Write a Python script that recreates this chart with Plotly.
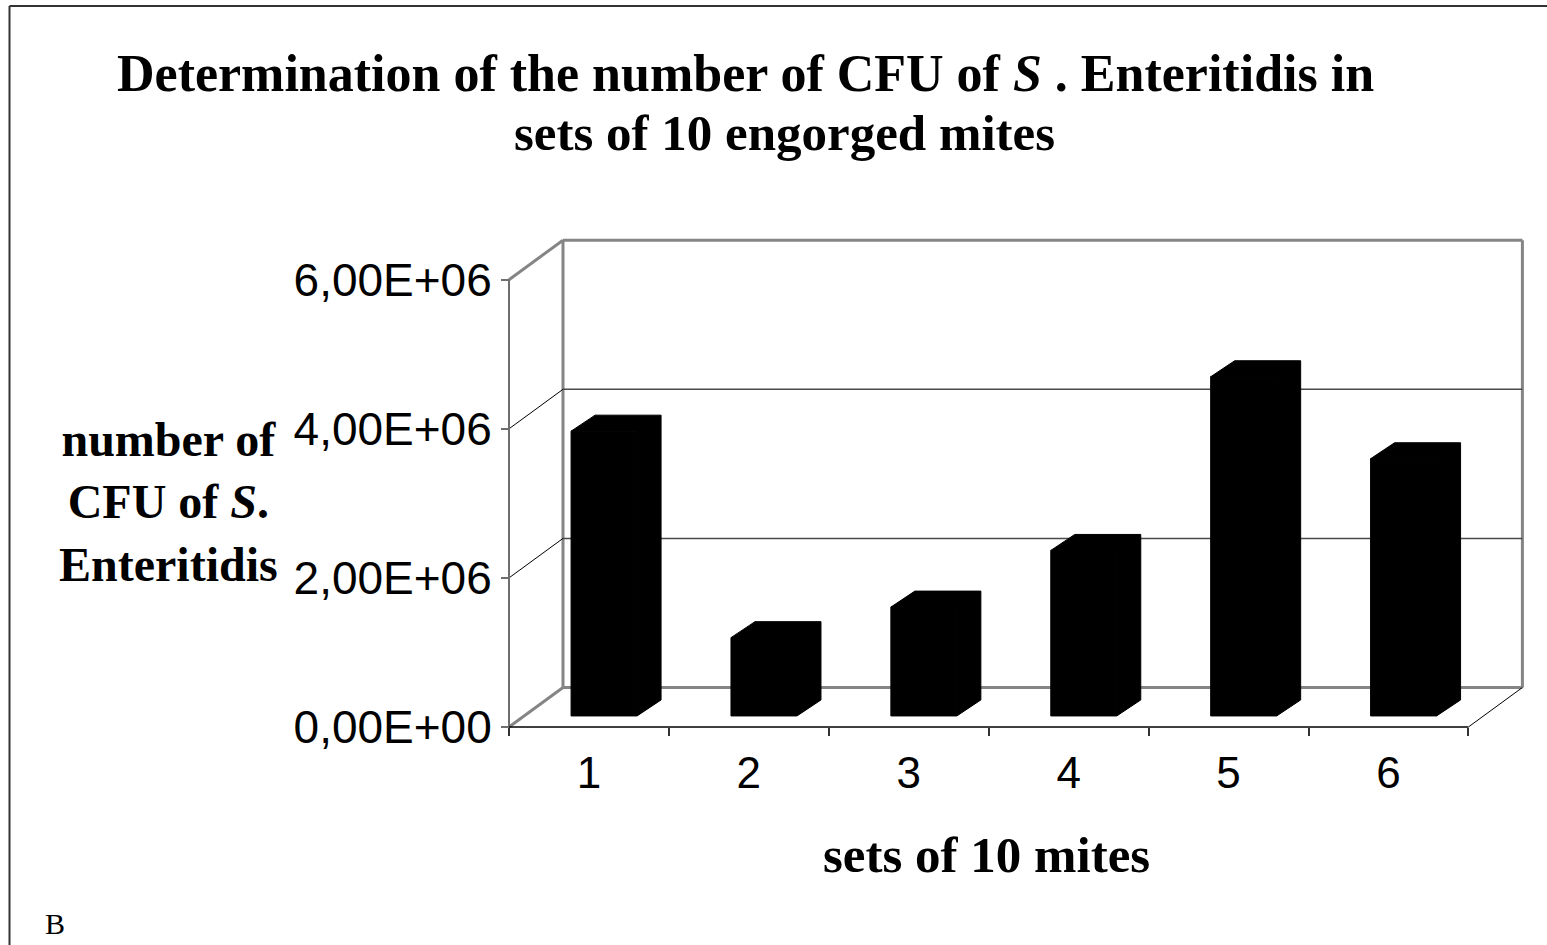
import plotly.graph_objects as go

# ---------------- data ----------------
categories = ["1", "2", "3", "4", "5", "6"]
cfu_values = [3.82e6, 1.05e6, 1.46e6, 2.22e6, 4.55e6, 3.45e6]
y_tick_values = [0, 2e6, 4e6, 6e6]
y_tick_labels = ["0,00E+00", "2,00E+06", "4,00E+06", "6,00E+06"]

title_line1 = "Determination of the number of CFU of <i>S</i> . Enteritidis in"
title_line2 = "sets of 10 engorged mites"
y_title = "number of<br>CFU of <i>S</i>.<br>Enteritidis"
x_title = "sets of 10 mites"
panel_label = "B"

# ---------------- layout geometry ----------------
W, H = 1547, 945
PL, PR, PT, PB = 490, 1540, 228, 740          # plot-area pixel box
AXIS_X_PX, AXIS_Y_PX = 509, 727               # front axes position
CAT_PX = 159.9                                 # pixels per category
UNIT_PX = 149.1 / 2e6                          # pixels per CFU

plot_w = PR - PL
plot_h = PB - PT
x_range = [0.5 - (AXIS_X_PX - PL) / CAT_PX, 0.5 + (PR - AXIS_X_PX) / CAT_PX]
y_range = [-(PB - AXIS_Y_PX) / UNIT_PX, (AXIS_Y_PX - PT) / UNIT_PX]

DX = 54 / CAT_PX           # depth of the 3-D box (x, data units)
DY = 39.5 / UNIT_PX        # depth of the 3-D box (y, data units)
FRONT = 0.28               # depth position of bar front faces
BAR_W = 66 / CAT_PX
DEP_X = 24 / CAT_PX
DEP_Y = 16 / UNIT_PX

n = len(categories)
cat_pos = [i + 1 for i in range(n)]
x_lo, x_hi = 0.5, n + 0.5
y_max = y_tick_values[-1]


def px_x(px):
    return (px - PL) / plot_w


def px_y(py):
    return (PB - py) / plot_h


fig = go.Figure()

# front faces of bars
bar_x = [c + FRONT * DX for c in cat_pos]
bar_base = FRONT * DY
fig.add_trace(go.Bar(
    x=bar_x, y=cfu_values, base=[bar_base] * n, width=BAR_W,
    marker=dict(color="black", line=dict(color="black", width=1)),
    hoverinfo="skip", showlegend=False,
))

# top + side faces of bars
for xc, v in zip(bar_x, cfu_values):
    xl, xr = xc - BAR_W / 2, xc + BAR_W / 2
    yb, yt = bar_base, bar_base + v
    xs = [xl, xl + DEP_X, xr + DEP_X, xr + DEP_X, xr, xr, xl]
    ys = [yt, yt + DEP_Y, yt + DEP_Y, yb + DEP_Y, yb, yt, yt]
    fig.add_trace(go.Scatter(
        x=xs, y=ys, mode="lines", fill="toself", fillcolor="black",
        line=dict(color="black", width=1), hoverinfo="skip", showlegend=False,
    ))

shapes = []
GRAY = "#858585"


def seg(x0, y0, x1, y1, color, width):
    shapes.append(dict(type="line", xref="x", yref="y", x0=x0, y0=y0, x1=x1, y1=y1,
                       line=dict(color=color, width=width), layer="below"))


# back wall and floor
seg(x_lo + DX, DY, x_lo + DX, y_max + DY, GRAY, 3)
seg(x_hi + DX, DY, x_hi + DX, y_max + DY, GRAY, 3)
seg(x_lo + DX, y_max + DY, x_hi + DX, y_max + DY, GRAY, 3)
seg(x_lo + DX, DY, x_hi + DX, DY, GRAY, 3)
# back gridlines and left-wall gridlines
for v in y_tick_values[1:-1]:
    seg(x_lo + DX, v + DY, x_hi + DX, v + DY, "#4a4a4a", 1.5)
    seg(x_lo, v, x_lo + DX, v + DY, "black", 1)
seg(x_lo, 0, x_lo + DX, DY, GRAY, 3)
seg(x_lo, y_max, x_lo + DX, y_max + DY, GRAY, 3)
seg(x_hi, 0, x_hi + DX, DY, "black", 1)
# front axes
seg(x_lo, 0, x_lo, y_max, "#6e6e6e", 2)
seg(x_lo, 0, x_hi, 0, "black", 1.5)

# outer border (top and left edges of the chart frame)
shapes.append(dict(type="line", xref="paper", yref="paper", x0=px_x(9.5), y0=px_y(6),
                   x1=px_x(W + 5), y1=px_y(6), line=dict(color="#333333", width=2)))
shapes.append(dict(type="line", xref="paper", yref="paper", x0=px_x(9.5), y0=px_y(6),
                   x1=px_x(9.5), y1=px_y(H + 5), line=dict(color="#333333", width=2)))

SERIF = "Liberation Serif, Times New Roman, serif"
SANS = "Liberation Sans, Arial, sans-serif"

annotations = [
    dict(text="<b>" + title_line1 + "</b>", x=px_x(745), y=px_y(73), xref="paper", yref="paper",
         showarrow=False, xanchor="center", yanchor="middle",
         font=dict(family=SERIF, size=52, color="black")),
    dict(text="<b>" + title_line2 + "</b>", x=px_x(784), y=px_y(133), xref="paper", yref="paper",
         showarrow=False, xanchor="center", yanchor="middle",
         font=dict(family=SERIF, size=51, color="black")),
    dict(text="<b>" + y_title + "</b>", x=px_x(168), y=px_y(502), xref="paper", yref="paper",
         showarrow=False, xanchor="center", yanchor="middle", align="center",
         font=dict(family=SERIF, size=48, color="black")),
    dict(text="<b>" + x_title + "</b>", x=px_x(986), y=px_y(855), xref="paper", yref="paper",
         showarrow=False, xanchor="center", yanchor="middle",
         font=dict(family=SERIF, size=51, color="black")),
    dict(text=panel_label, x=px_x(55), y=px_y(923), xref="paper", yref="paper",
         showarrow=False, xanchor="center", yanchor="middle",
         font=dict(family=SERIF, size=30, color="black")),
]

fig.update_layout(
    width=W, height=H,
    margin=dict(l=PL, r=W - PR, t=PT, b=H - PB, pad=0),
    paper_bgcolor="white", plot_bgcolor="rgba(0,0,0,0)",
    showlegend=False,
    shapes=shapes, annotations=annotations,
    xaxis=dict(
        range=x_range, domain=[0, 1], anchor="free", position=px_y(AXIS_Y_PX),
        tickmode="array", tickvals=cat_pos, ticktext=categories,
        ticks="outside", ticklen=7, tickcolor="rgba(0,0,0,0)",
        tickfont=dict(family=SANS, size=44, color="black"),
        minor=dict(tickmode="array", tickvals=[c - 0.5 for c in cat_pos] + [x_hi],
                   ticks="outside", ticklen=8, tickcolor="#333333", tickwidth=1.5, showgrid=False),
        showgrid=False, zeroline=False, showline=False, fixedrange=True,
    ),
    yaxis=dict(
        range=y_range, domain=[0, 1], anchor="free", position=px_x(AXIS_X_PX),
        tickmode="array", tickvals=y_tick_values, ticktext=y_tick_labels,
        ticks="outside", ticklen=8, tickcolor="#6e6e6e", tickwidth=2,
        tickfont=dict(family=SANS, size=46, color="black"),
        showgrid=False, zeroline=False, showline=False, fixedrange=True,
    ),
)

fig.write_html("out.html", config={"displayModeBar": False},
               post_script="document.body.style.margin='0';document.body.style.overflow='hidden';")
